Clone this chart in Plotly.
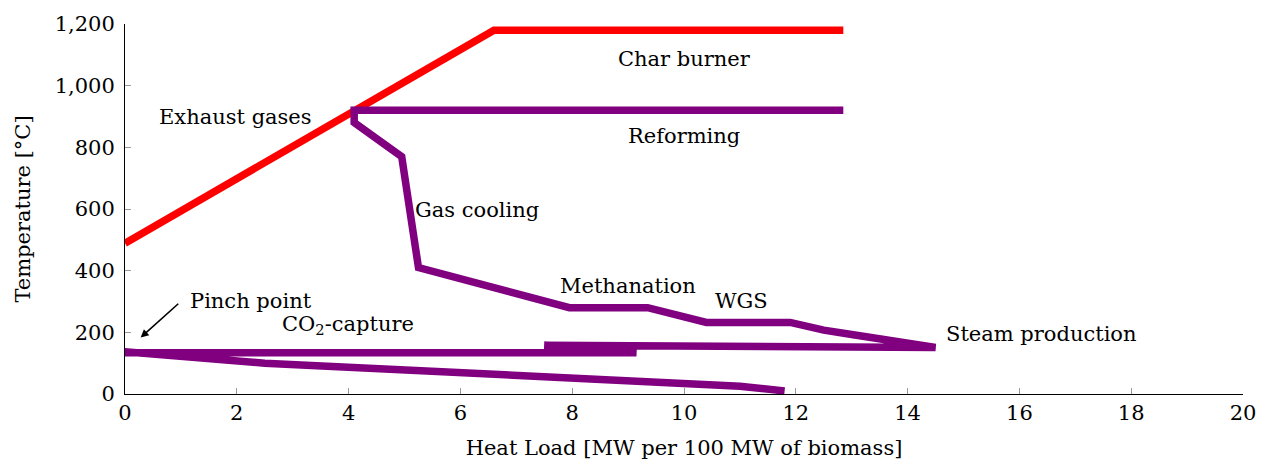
import plotly.graph_objects as go

# Hot utility: char burner / exhaust gases
red_x = [0.0, 6.6, 12.85]
red_y = [489, 1180, 1180]

# Process streams composite (single path)
purple_x = [12.85, 4.1, 4.1, 4.95, 5.25, 7.95, 9.35, 10.4, 11.9, 12.5, 13.0, 13.9, 14.5,
            7.5, 9.15, 0.0, 0.0, 2.5, 11.0, 11.8]
purple_y = [920, 920, 880, 770, 410, 280, 280, 232, 232, 207, 193, 170, 151,
            158, 134, 134, 137, 100, 25, 10]

labels = ["Char burner", "Exhaust gases", "Reforming", "Gas cooling", "Methanation",
          "WGS", "Steam production", "CO<sub>2</sub>-capture"]
label_x = [10.0, 1.97, 10.0, 6.3, 9.0, 11.02, 16.39, 3.99]
label_y = [1087, 898, 836, 598, 351, 302, 193, 225]

x_ticks = list(range(0, 21, 2))
y_ticks = list(range(0, 1201, 200))

FONT = "DejaVu Serif"
FS = 21
fig = go.Figure()
fig.add_trace(go.Scatter(x=red_x, y=red_y, mode="lines",
                         line=dict(color="#ff0000", width=7.5), showlegend=False))
fig.add_trace(go.Scatter(x=purple_x, y=purple_y, mode="lines",
                         line=dict(color="#800080", width=7.5), showlegend=False))

for t, x, y in zip(labels, label_x, label_y):
    fig.add_annotation(x=x, y=y, text=t, showarrow=False,
                       font=dict(family=FONT, size=FS, color="black"))

fig.add_annotation(x=1.13, y=302, text="Pinch point", showarrow=False, xanchor="left",
                   font=dict(family=FONT, size=FS, color="black"))
fig.add_annotation(x=0.28, y=183, ax=0.98, ay=297, axref="x", ayref="y", xref="x", yref="y",
                   text="", showarrow=True, arrowhead=2, arrowsize=1, arrowwidth=1.6,
                   arrowcolor="black")

fig.update_layout(
    width=1271, height=471,
    margin=dict(l=125, r=28, t=21, b=77),
    plot_bgcolor="white", paper_bgcolor="white",
    font=dict(family=FONT, size=FS, color="black"),
    xaxis=dict(range=[0, 20], tickvals=x_ticks, ticks="inside", ticklen=6, tickcolor="#999999",
               showline=True, linecolor="black", linewidth=1, showgrid=False, zeroline=False,
               title=dict(text="Heat Load [MW per 100 MW of biomass]", font=dict(size=FS), standoff=16),
               tickfont=dict(size=FS)),
    yaxis=dict(range=[0, 1200], tickvals=y_ticks, tickformat=",", ticks="inside", ticklen=6,
               tickcolor="#999999", showline=True, linecolor="black", linewidth=1,
               showgrid=False, zeroline=False, ticklabelstandoff=5,
               title=dict(text="Temperature [°C]", font=dict(size=FS), standoff=18),
               tickfont=dict(size=FS)),
)
fig.write_html("out.html")
